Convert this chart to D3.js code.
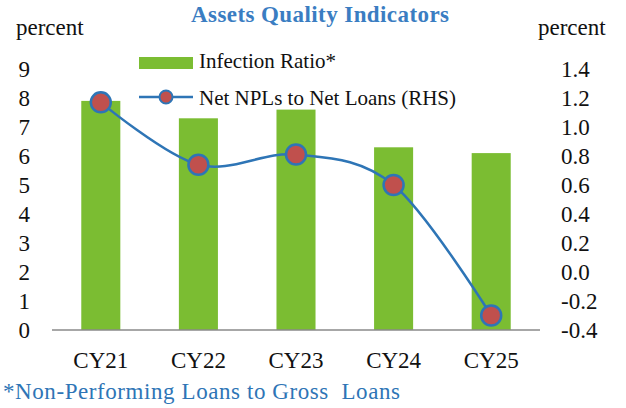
<!DOCTYPE html>
<html lang="en">
  <head>
    <meta charset="utf-8">
    <title>Assets Quality Indicators</title>
    <style media="screen">
      body { margin: 0; background: #fff; }
    </style>
  </head>
  <body>
    <div id="graph-div"></div>

    <script src="https://d3js.org/d3.v7.min.js"></script>
    <script type="text/javascript">

    // data
    var years = ["CY21", "CY22", "CY23", "CY24", "CY25"];
    var infectionRatio = [7.9, 7.3, 7.6, 6.3, 6.1];
    var netNplRatio = [1.17, 0.74, 0.81, 0.6, -0.3];
    var leftTicks = [0, 1, 2, 3, 4, 5, 6, 7, 8, 9];
    var rightTicks = [-0.4, -0.2, 0.0, 0.2, 0.4, 0.6, 0.8, 1.0, 1.2, 1.4];

    var serif = "'Liberation Serif', 'Times New Roman', serif";
    var width = 626, height = 408;
    var plotLeft = 52, plotRight = 540, plotTop = 69, plotBottom = 330;

    var svg = d3.select("#graph-div")
      .append("svg")
        .attr("width", width)
        .attr("height", height)
        .style("font-family", serif);

    var x = d3.scaleBand()
        .domain(years)
        .range([plotLeft, plotRight])
        .paddingInner(0.6)
        .paddingOuter(0.3);

    var yL = d3.scaleLinear().domain([0, 9]).range([plotBottom, plotTop]);
    var yR = d3.scaleLinear().domain([-0.4, 1.4]).range([plotBottom, plotTop]);

    // bars
    svg.selectAll("rect.bar")
      .data(infectionRatio)
      .enter()
      .append("rect")
        .attr("class", "bar")
        .attr("x", function(d, i) { return x(years[i]); })
        .attr("y", function(d) { return yL(d); })
        .attr("width", x.bandwidth())
        .attr("height", function(d) { return plotBottom - yL(d); })
        .style("fill", "#7BBD32");

    function styleAxis(g, size) {
      g.attr("font-family", serif).attr("font-size", size);
      g.select(".domain").remove();
      g.selectAll("text").style("font-family", serif).style("font-size", size + "px").style("fill", "#111");
    }

    // category axis
    svg.append("g")
        .attr("transform", "translate(0," + plotBottom + ")")
        .call(d3.axisBottom(x).tickSize(0).tickPadding(22))
        .call(styleAxis, 23);
    svg.append("line")
        .attr("x1", plotLeft).attr("x2", plotRight)
        .attr("y1", plotBottom).attr("y2", plotBottom)
        .style("stroke", "#8a8a8a")
        .style("stroke-width", 1.5);

    // left axis
    svg.append("g")
        .attr("transform", "translate(31,0)")
        .call(d3.axisLeft(yL).tickValues(leftTicks).tickSize(0).tickPadding(1))
        .call(styleAxis, 23);

    // right axis
    svg.append("g")
        .attr("transform", "translate(559,0)")
        .call(d3.axisRight(yR).tickValues(rightTicks).tickSize(0).tickPadding(2)
          .tickFormat(function(d) { return d.toFixed(1); }))
        .call(styleAxis, 23);

    // smoothed line + markers
    var line = d3.line()
        .x(function(d, i) { return x(years[i]) + x.bandwidth() / 2; })
        .y(function(d) { return yR(d); })
        .curve(d3.curveCardinal.tension(0));

    svg.append("path")
        .datum(netNplRatio)
        .attr("d", line)
        .style("fill", "none")
        .style("stroke", "#2E75B6")
        .style("stroke-width", 2.5);

    svg.selectAll("circle.pt")
      .data(netNplRatio)
      .enter()
      .append("circle")
        .attr("class", "pt")
        .attr("cx", function(d, i) { return x(years[i]) + x.bandwidth() / 2; })
        .attr("cy", function(d) { return yR(d); })
        .attr("r", 10)
        .style("fill", "#C0504D")
        .style("stroke", "#2E75B6")
        .style("stroke-width", 2.5);

    // titles
    svg.append("text")
        .attr("x", 320).attr("y", 22)
        .attr("text-anchor", "middle")
        .style("font-size", "23px")
        .style("font-weight", "bold")
        .style("fill", "#3A7DC2")
        .attr("textLength", 258)
        .text("Assets Quality Indicators");

    svg.append("text")
        .attr("x", 16).attr("y", 35)
        .style("font-size", "23px")
        .style("fill", "#111")
        .text("percent");

    svg.append("text")
        .attr("x", 538).attr("y", 35)
        .style("font-size", "23px")
        .style("fill", "#111")
        .text("percent");

    // legend
    svg.append("rect")
        .attr("x", 139).attr("y", 57)
        .attr("width", 54).attr("height", 12)
        .style("fill", "#7BBD32");
    svg.append("text")
        .attr("x", 199).attr("y", 68)
        .style("font-size", "21px")
        .style("fill", "#111")
        .text("Infection Ratio*");

    svg.append("line")
        .attr("x1", 139).attr("x2", 193)
        .attr("y1", 97).attr("y2", 97)
        .style("stroke", "#2E75B6")
        .style("stroke-width", 2.5);
    svg.append("circle")
        .attr("cx", 166).attr("cy", 97).attr("r", 6.5)
        .style("fill", "#C0504D")
        .style("stroke", "#2E75B6")
        .style("stroke-width", 2);
    svg.append("text")
        .attr("x", 199).attr("y", 105)
        .style("font-size", "21px")
        .style("fill", "#111")
        .attr("textLength", 257)
        .text("Net NPLs to Net Loans (RHS)");

    // footnote
    svg.append("text")
        .attr("x", 3).attr("y", 399)
        .style("font-size", "23px")
        .style("fill", "#2E75B6")
        .style("white-space", "pre")
        .attr("textLength", 397)
        .text("*Non-Performing Loans to Gross  Loans");

    </script>
  </body>
</html>
